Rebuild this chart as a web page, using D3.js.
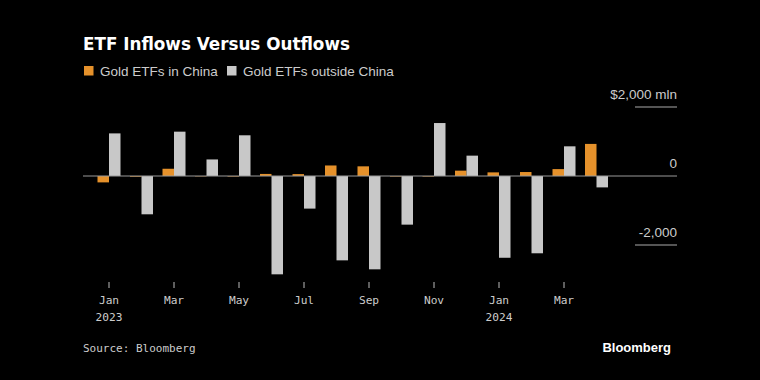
<!doctype html>
<html>
<head>
  <script src="https://cdnjs.cloudflare.com/ajax/libs/d3/7.8.5/d3.min.js"></script>
  <style>
    body { margin: 0; background: #000; }
    svg { display: block; }
  </style>
</head>
<body>
  <svg id="chart" width="760" height="380"></svg>
  <script>
    // monthly flows, $ mln
    var months = ["2023-01", "2023-02", "2023-03", "2023-04", "2023-05", "2023-06", "2023-07", "2023-08",
      "2023-09", "2023-10", "2023-11", "2023-12", "2024-01", "2024-02", "2024-03", "2024-04"];
    var china = [-185, -20, 210, -10, -15, 60, 55, 305, 280, -15, -15, 155, 105, 115, 200, 930];
    var outside = [1235, -1110, 1285, 480, 1180, -2850, -945, -2445, -2705, -1410, 1535, 590, -2370, -2240, 860, -330];
    var tickMonths = ["2023-01", "2023-03", "2023-05", "2023-07", "2023-09", "2023-11", "2024-01", "2024-03"];
    var monthNames = { "01": "Jan", "03": "Mar", "05": "May", "07": "Jul", "09": "Sep", "11": "Nov" };
    var yTicks = [2000, 0, -2000];

    var svg = d3.select("#chart");
    var orange = "#e5912b", grey = "#c8c8c8";
    var sans = "'Liberation Sans', Arial, sans-serif";
    var mono = "'DejaVu Sans Mono', monospace";

    var left = 83, right = 677;
    var x = d3.scaleBand().domain(months).range([92.75, 612.75]);
    var y = d3.scaleLinear().domain([-2000, 2000]).range([245, 107]);
    var barW = 11.5;

    // title + legend
    svg.append("text").attr("x", 83).attr("y", 50)
      .attr("fill", "#fff").attr("font-family", "'DejaVu Sans', sans-serif")
      .attr("font-weight", "bold").attr("font-size", 16.8)
      .text("ETF Inflows Versus Outflows");

    var legend = [["Gold ETFs in China", orange, 84], ["Gold ETFs outside China", grey, 227]];
    legend.forEach(function (l) {
      svg.append("rect").attr("x", l[2]).attr("y", 66).attr("width", 9.5).attr("height", 9.5).attr("fill", l[1]);
      svg.append("text").attr("x", l[2] + 16).attr("y", 76)
        .attr("fill", "#ccc").attr("font-family", sans).attr("font-size", 13.5).text(l[0]);
    });

    // y axis labels on the right
    yTicks.forEach(function (t) {
      if (t !== 0) {
        svg.append("line").attr("x1", 635).attr("x2", right)
          .attr("y1", y(t)).attr("y2", y(t)).attr("stroke", "#aaa").attr("stroke-width", 1);
      }
      var label = t === 2000 ? "$2,000 mln" : d3.format(",")(t).replace("−", "-");
      svg.append("text").attr("x", right).attr("y", y(t) - 8)
        .attr("text-anchor", "end").attr("fill", "#ccc")
        .attr("font-family", sans).attr("font-size", 13.5).text(label);
    });

    // bars
    svg.append("g").selectAll("rect").data(months).join("rect")
      .attr("x", function (d) { return x(d) + x.bandwidth() / 2 - barW; })
      .attr("width", barW)
      .attr("y", function (d, i) { return y(Math.max(0, china[i])); })
      .attr("height", function (d, i) { return Math.abs(y(china[i]) - y(0)); })
      .attr("fill", orange);

    svg.append("g").selectAll("rect").data(months).join("rect")
      .attr("x", function (d) { return x(d) + x.bandwidth() / 2; })
      .attr("width", barW)
      .attr("y", function (d, i) { return y(Math.max(0, outside[i])); })
      .attr("height", function (d, i) { return Math.abs(y(outside[i]) - y(0)); })
      .attr("fill", grey);

    // zero line
    svg.append("line").attr("x1", left).attr("x2", right)
      .attr("y1", y(0)).attr("y2", y(0)).attr("stroke", "#999").attr("stroke-width", 1);

    // x axis
    var xt = svg.append("g").attr("font-family", mono).attr("font-size", 11.2).attr("fill", "#ccc");
    tickMonths.forEach(function (m) {
      var cx = x(m) + x.bandwidth() / 2;
      xt.append("line").attr("x1", cx).attr("x2", cx).attr("y1", 282).attr("y2", 288)
        .attr("stroke", "#bbb");
      xt.append("text").attr("x", cx).attr("y", 304).attr("text-anchor", "middle")
        .text(monthNames[m.slice(5)]);
      if (m.slice(5) === "01") {
        xt.append("text").attr("x", cx).attr("y", 321).attr("text-anchor", "middle").text(m.slice(0, 4));
      }
    });

    // footer
    svg.append("text").attr("x", 83).attr("y", 352)
      .attr("fill", "#ccc").attr("font-family", mono).attr("font-size", 11).text("Source: Bloomberg");
    svg.append("text").attr("x", 671).attr("y", 352).attr("text-anchor", "end")
      .attr("fill", "#fff").attr("font-family", sans).attr("font-weight", "bold").attr("font-size", 13)
      .text("Bloomberg");
  </script>
</body>
</html>
